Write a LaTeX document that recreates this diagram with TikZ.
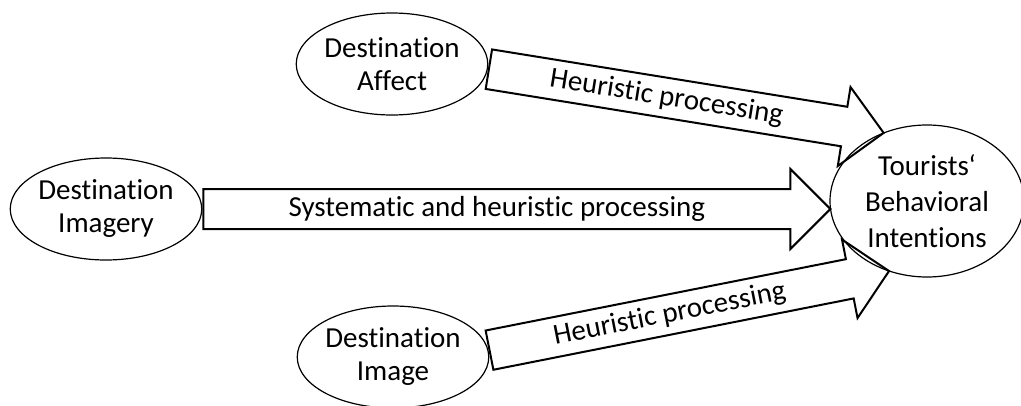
\documentclass[tikz,border=0pt]{standalone}
\usepackage{fontspec}
\setmainfont{Carlito}[Ligatures={TeX,NoCommon}]
\usetikzlibrary{shapes.geometric,shapes.arrows,calc}

\begin{document}
\begin{tikzpicture}[x=1pt, y=-1pt,
    oval/.style={draw, ellipse, line width=1.2pt, inner sep=0pt, align=center,
      minimum width=189pt, minimum height=102pt, font=\fontsize{29}{33}\selectfont},
    srcoval/.style={oval, execute at begin node={\rule{0pt}{27pt}}},
    fat/.style={draw, single arrow, line width=2pt, inner sep=0pt,
      single arrow head extend=20pt, text height=27pt, text depth=11pt, anchor=tail},
    proc/.style={inner sep=0pt, font=\fontsize{29}{33}\selectfont}]
    \useasboundingbox (0,0) rectangle (1021,405);

    % sources and target
    \node[srcoval] (affect) at (392,64) {Destination\\Affect};
    \node[srcoval, minimum width=188pt] (imagery) at (106,209) {Destination\\Imagery};
    \node[srcoval, minimum width=188pt] (image) at (393,357) {Destination\\Image};
    \node[oval, minimum width=194pt, minimum height=152pt,
      font=\fontsize{29}{36}\selectfont] (intent) at (927,201) {Tourists‘\\Behavioral\\Intentions};

    % processing arrows, label sits in the middle of the shaft
    \path let \p1=(affect.-3), \p2=(intent.123),
      \n1={atan2(\y2-\y1,\x2-\x1)}, \n2={veclen(\x2-\x1,\y2-\y1)},
      \p3=($(\p1)!{0.5*\n2-19pt}!(\p2)$) in
      node[fat, rotate=\n1, minimum height=\n2] (heuaff) at (\p1) {}
      node[proc, rotate=\n1] (heuafflbl) at (\p3) {Heuristic processing};
    \path let \p1=(imagery.east), \p2=(imagery.east -| intent.west),
      \n2={veclen(\x2-\x1,\y2-\y1)},
      \p3=($(\p1)!{0.5*\n2-19pt}!(\p2)$) in
      node[fat, minimum height=\n2] (sysheu) at (\p1) {}
      node[proc] (sysheulbl) at (\p3) {Systematic and heuristic processing};
    \path let \p1=(image.4), \p2=(intent.241),
      \n1={atan2(\y2-\y1,\x2-\x1)}, \n2={veclen(\x2-\x1,\y2-\y1)},
      \p3=($(\p1)!{0.5*\n2-19pt}!(\p2)$) in
      node[fat, rotate=\n1, minimum height=\n2] (heuimg) at (\p1) {}
      node[proc, rotate=\n1] (heuimglbl) at (\p3) {Heuristic processing};
\end{tikzpicture}
\end{document}
